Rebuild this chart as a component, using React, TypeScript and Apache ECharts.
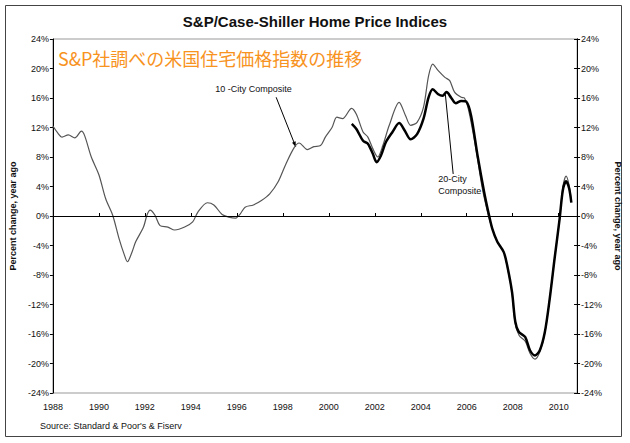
import React, { useEffect, useRef } from "react";
import * as echarts from "echarts";

// 10-City Composite: year-over-year % change
const years10 = [
  1988.0, 1988.2, 1988.4, 1988.67, 1988.95, 1989.24, 1989.38, 1989.67, 1990.0, 1990.3,
  1990.6, 1990.88, 1991.1, 1991.24, 1991.45, 1991.6, 1991.94, 1992.1, 1992.23, 1992.44,
  1992.66, 1993.0, 1993.3, 1993.73, 1994.08, 1994.3, 1994.72, 1995.0, 1995.36, 1995.65,
  1995.93, 1996.15, 1996.36, 1996.72, 1997.07, 1997.43, 1997.79, 1998.14, 1998.5, 1998.71,
  1999.07, 1999.35, 1999.64, 1999.85, 2000.14, 2000.35, 2000.6, 2000.99, 2001.2, 2001.49,
  2001.7, 2001.92, 2002.13, 2002.35, 2002.63, 2003.06, 2003.34, 2003.56, 2003.84, 2004.12,
  2004.34, 2004.52, 2004.76, 2005.05, 2005.26, 2005.47, 2005.76, 2005.9, 2006.1, 2006.4,
  2006.68, 2006.94, 2007.11, 2007.33, 2007.61, 2007.76, 2007.97, 2008.11, 2008.28, 2008.55,
  2008.75, 2008.97, 2009.18, 2009.4, 2009.61, 2009.82, 2010.04, 2010.18, 2010.32, 2010.45,
  2010.55,
];
const values10 = [
  12.2, 11.3, 10.7, 11.0, 10.6, 11.5, 10.9, 8.0, 5.6, 2.3,
  0.1, -3.1, -5.2, -6.2, -4.8, -3.5, -1.5, 0.2, 0.8, 0.1,
  -1.3, -1.5, -1.9, -1.5, -0.8, 0.5, 1.8, 1.5, 0.2, -0.15,
  -0.3, 0.3, 1.2, 1.5, 2.1, 3.0, 4.6, 7.1, 9.3, 9.9,
  9.0, 9.4, 9.55, 10.7, 12.0, 13.4, 13.2, 14.6, 13.8, 11.4,
  10.7, 9.1, 8.0, 9.55, 12.3, 15.4, 13.6, 12.3, 12.7, 14.75,
  19.0, 20.6, 19.7, 18.8, 18.35, 16.8, 16.1, 16.0, 14.1, 9.1,
  3.7, 0.1, -1.7, -3.5, -4.9, -6.8, -10.5, -14.6, -16.2, -17.0,
  -18.6, -19.4, -18.4, -15.8, -11.2, -5.8, -0.4, 3.9, 5.4, 4.2,
  2.0,
];

// 20-City Composite: year-over-year % change
const years20 = [
  2001.0, 2001.2, 2001.49, 2001.7, 2001.92, 2002.08, 2002.27, 2002.48, 2002.77, 2003.06,
  2003.3, 2003.56, 2003.84, 2004.12, 2004.34, 2004.52, 2004.76, 2004.95, 2005.12, 2005.33,
  2005.52, 2005.76, 2005.98, 2006.19, 2006.47, 2006.76, 2006.97, 2007.11, 2007.33, 2007.61,
  2007.76, 2007.97, 2008.11, 2008.26, 2008.54, 2008.75, 2008.97, 2009.18, 2009.4, 2009.61,
  2009.82, 2010.04, 2010.18, 2010.32, 2010.45, 2010.55,
];
const values20 = [
  12.5, 11.8, 10.2, 9.8, 8.4, 7.3, 8.2, 10.0, 11.4, 12.6,
  11.6, 10.4, 11.1, 13.2, 16.1, 17.2, 16.5, 16.3, 16.8, 16.0,
  15.3, 15.6, 15.5, 13.6, 8.2, 3.2, 0.1, -1.7, -3.5, -4.9,
  -6.7, -10.3, -14.3, -15.7, -16.4, -18.2, -18.9, -18.2, -15.7, -11.2,
  -5.8, -0.4, 3.5, 4.7, 3.8, 1.8,
];

const xMin = 1988;
const xMax = 2010.8;
const xInterval = 2;
const yMin = -24;
const yMax = 24;
const yInterval = 4;

const titleText = "S&P/Case-Shiller Home Price Indices";
const subtitleText = "S&P社調べの米国住宅価格指数の推移";
const axisNameText = "Percent change, year ago";
const sourceText = "Source: Standard & Poor's & Fiserv";
const label10Text = "10 -City Composite";
const label20Text = "20-City\nComposite";

// annotation anchors in data coordinates
const label10Start = [1997.71, 16.1];
const label10Tip = [1998.56, 9.4];
const label20Start = [2005.41, 5.7];
const label20End = [2005.07, 16.5];

const FONT = "'Liberation Sans Narrow', 'Liberation Sans', Arial, sans-serif";
const FONT_W = "'Liberation Sans', Arial, sans-serif";

export default function App() {
  const ref = useRef<HTMLDivElement>(null);
  useEffect(() => {
    document.body.style.margin = "0";
    if (!ref.current) return;
    const chart = echarts.init(ref.current, null, { renderer: "svg" });
    const data10 = years10.map((y, i) => [y, values10[i]]);
    const data20 = years20.map((y, i) => [y, values20[i]]);
    const labelStyle = { fontSize: 9, color: "#111", fontFamily: FONT };
    const yCommon = {
      type: "value",
      min: yMin,
      max: yMax,
      interval: yInterval,
      splitLine: { show: false },
      axisLine: { show: true, lineStyle: { color: "#000", width: 1 } },
    };
    chart.setOption({
      animation: false,
      backgroundColor: "#fff",
      title: {
        text: titleText,
        left: "center",
        top: 9,
        textStyle: { fontSize: 15, fontWeight: "bold", fontFamily: FONT_W, color: "#111" },
      },
      grid: { left: 46, right: 51, top: 39, bottom: 50, show: true, borderColor: "#999", borderWidth: 1 },
      xAxis: {
        type: "value",
        min: xMin,
        max: xMax,
        interval: xInterval,
        splitLine: { show: false },
        axisLine: { lineStyle: { color: "#000", width: 1 } },
        axisTick: { inside: true, length: 3, lineStyle: { color: "#000" } },
        axisLabel: {
          ...labelStyle,
          margin: 9,
          formatter: (v: number) => (Math.abs(v % 2) < 1e-6 ? String(v) : ""),
        },
      },
      yAxis: [
        {
          ...yCommon,
          position: "left",
          axisTick: { show: true, length: 3, lineStyle: { color: "#000" } },
          axisLabel: { ...labelStyle, margin: 4, formatter: "{value}%" },
          name: axisNameText,
          nameLocation: "middle",
          nameGap: 33,
          nameRotate: 90,
          nameTextStyle: { fontSize: 9, fontWeight: "bold", fontFamily: FONT_W, color: "#111" },
        },
        {
          ...yCommon,
          position: "right",
          axisTick: { show: true, length: 3, lineStyle: { color: "#000" } },
          axisLabel: { ...labelStyle, margin: 4, formatter: "{value}%" },
          name: axisNameText,
          nameLocation: "middle",
          nameGap: 33,
          nameRotate: -90,
          nameTextStyle: { fontSize: 9, fontWeight: "bold", fontFamily: FONT_W, color: "#111" },
        },
        {
          ...yCommon,
          position: "right",
          axisTick: { show: true, inside: true, length: 3, lineStyle: { color: "#000" } },
          axisLabel: { show: false },
        },
      ],
      series: [
        {
          name: "10-City Composite",
          type: "line",
          data: data10,
          smooth: 0.3,
          symbol: "none",
          lineStyle: { color: "#555", width: 1.2 },
          z: 2,
          markLine: {
            silent: true,
            symbol: ["none", "none"],
            label: { show: false },
            lineStyle: { color: "#000", width: 1, type: "solid" },
            data: [{ yAxis: 0 }],
          },
        },
        {
          name: "20-City Composite",
          type: "line",
          data: data20,
          smooth: 0.3,
          symbol: "none",
          lineStyle: { color: "#000", width: 2.5 },
          z: 3,
        },
      ],
    });

    const px = (p: number[]) => chart.convertToPixel({ xAxisIndex: 0, yAxisIndex: 0 }, p) as number[];
    const a = px(label10Start);
    const b = px(label10Tip);
    const c = px(label20Start);
    const d = px(label20End);
    const ang = Math.atan2(b[1] - a[1], b[0] - a[0]);
    const ah = 5;
    const aw = 2;
    const head = [
      [b[0], b[1]],
      [b[0] - ah * Math.cos(ang) + aw * Math.sin(ang), b[1] - ah * Math.sin(ang) - aw * Math.cos(ang)],
      [b[0] - ah * Math.cos(ang) - aw * Math.sin(ang), b[1] - ah * Math.sin(ang) + aw * Math.cos(ang)],
    ];

    chart.setOption({
      graphic: [
        {
          type: "rect",
          shape: { x: 5.5, y: 5.5, width: 616, height: 431 },
          style: { fill: "none", stroke: "#444", lineWidth: 1 },
          silent: true,
        },
        {
          type: "text",
          left: 58,
          top: 49,
          style: { text: subtitleText, fontSize: 18, fill: "#F7931E", fontFamily: "'Noto Sans CJK JP', sans-serif" },
        },
        {
          type: "text",
          left: 40,
          top: 421,
          style: { text: sourceText, fontSize: 9, fill: "#111", fontFamily: FONT },
        },
        {
          type: "text",
          x: a[0] - 61,
          y: a[1] - 8,
          style: { text: label10Text, fontSize: 9, fill: "#111", fontFamily: FONT, verticalAlign: "middle" },
        },
        {
          type: "line",
          shape: { x1: a[0], y1: a[1], x2: b[0], y2: b[1] },
          style: { stroke: "#000", lineWidth: 1 },
        },
        {
          type: "polygon",
          shape: { points: head },
          style: { fill: "#000" },
        },
        {
          type: "line",
          shape: { x1: c[0], y1: c[1], x2: d[0], y2: d[1] },
          style: { stroke: "#000", lineWidth: 1 },
        },
        {
          type: "text",
          x: c[0] - 15,
          y: c[1] - 1,
          style: {
            text: label20Text,
            fontSize: 9,
            lineHeight: 12,
            fill: "#111",
            fontFamily: FONT,
            verticalAlign: "top",
          },
        },
      ],
    });

    return () => chart.dispose();
  }, []);
  return <div ref={ref} style={{ width: 630, height: 443 }} />;
}
